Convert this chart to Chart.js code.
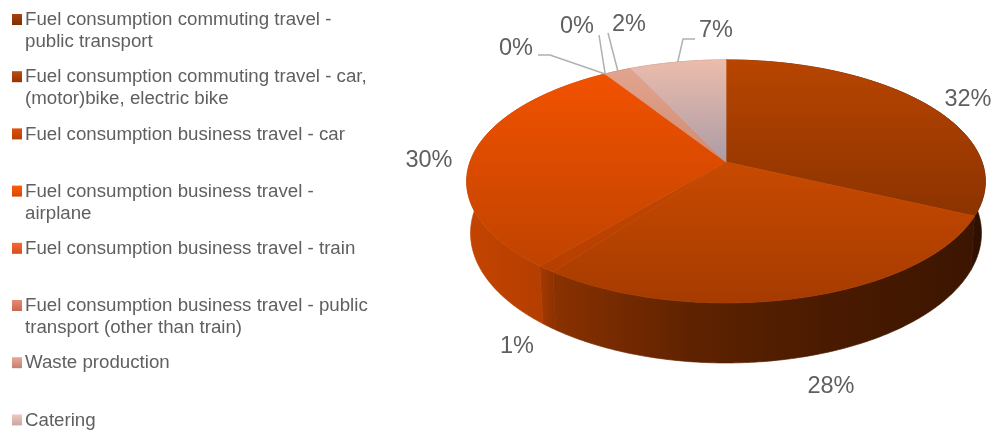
<!DOCTYPE html>
<html lang="en">
<head>
    <meta charset="UTF-8">
    <title>Carbon footprint by source</title>
    <script src="https://cdn.jsdelivr.net/npm/chart.js"></script>
    <style>
        html, body { margin: 0; padding: 0; background: #fff; }
        canvas { display: block; }
    </style>
</head>
<body>
    <canvas id="footprint" width="992" height="433"></canvas>

    <script>
        const categories = [
            ['Fuel consumption commuting travel -', 'public transport'],
            ['Fuel consumption commuting travel - car,', '(motor)bike, electric bike'],
            ['Fuel consumption business travel - car'],
            ['Fuel consumption business travel -', 'airplane'],
            ['Fuel consumption business travel - train'],
            ['Fuel consumption business travel - public', 'transport (other than train)'],
            ['Waste production'],
            ['Catering']
        ];
        const shares = [32, 28, 1, 30, 0, 0, 2, 7];

        // per slice: top face (far -> near), side wall (left -> right), legend swatch (top -> bottom)
        const faceColors = [
            ['#b84500', '#8c3300'], ['#c84a00', '#a63b00'], ['#c44600', '#b63f00'], ['#f25200', '#c04300'],
            ['#f06030', '#e05020'], ['#e08070', '#d07060'], ['#e2a48e', '#d08a72'], ['#ecbcac', '#aa9ca6']
        ];
        const wallColors = [
            ['#461900', '#2f1000'], ['#8a3100', '#5e2200', '#491a00', '#3c1500'], ['#a63900', '#8a3100'], ['#c44400', '#a63900'],
            ['#a03600', '#a03600'], ['#a03600', '#a03600'], ['#a06040', '#a06040'], ['#a07060', '#a07060']
        ];
        const swatchColors = [
            ['#a84210', '#7f2e00'], ['#c04a10', '#923500'], ['#e05010', '#b84000'], ['#ff5c08', '#d84800'],
            ['#f86830', '#d05020'], ['#e88870', '#c86850'], ['#eca898', '#c08070'], ['#f0c8c0', '#c8a8a0']
        ];

        // percent labels: centre position, and the elbow of the leader line if there is one
        const labelPos = [[968, 100], [831, 387], [517, 347], [429, 161], [516, 49], [577, 27], [629, 25], [716, 31]];
        const leaders = [null, null, null, null, [[538, 55], [550, 55]], [[599, 35]], [[608, 33]], [[695, 39], [683, 39]]];

        const legendTop = 20, legendStep = 57.2, legendLine = 22;

        // view of the tilted disc
        const view = { cx: 726, cy: 162, a: 256, b: 118.4, k: 0.16, depth: 50.4, shrink: 0.985 };

        function project(theta, low) {
            const X = Math.sin(theta), Y = Math.cos(theta), w = 1 + view.k * Y;
            const sx = low ? view.a * view.shrink : view.a;
            return [view.cx + sx * X / w, view.cy + (-view.b * Y + (low ? view.depth : 0)) / w];
        }

        function sliceAngles(arc) {
            // arc angles start at -PI/2 on the canvas, theta is clockwise from straight up
            return [arc.startAngle + Math.PI / 2, arc.endAngle + Math.PI / 2];
        }

        function rim(start, end, low) {
            const n = Math.max(2, Math.ceil((end - start) / 0.01));
            const pts = [];
            for (let i = 0; i <= n; i++) pts.push(project(start + (end - start) * i / n, low));
            return pts;
        }

        function fillPath(ctx, pts, fill) {
            ctx.beginPath();
            pts.forEach((p, i) => i ? ctx.lineTo(p[0], p[1]) : ctx.moveTo(p[0], p[1]));
            ctx.closePath();
            ctx.fillStyle = fill;
            ctx.fill();
            // closes the hairline seam between neighbouring slices
            ctx.strokeStyle = fill;
            ctx.lineWidth = 0.7;
            ctx.stroke();
        }

        function ramp(g, colors) {
            colors.forEach((c, i) => g.addColorStop(i / (colors.length - 1), c));
            return g;
        }

        const pie3d = {
            id: 'pie3d',
            beforeDatasetDraw() {
                return false; // arcs are painted below through the tilted view
            },
            afterDatasetsDraw(chart) {
                const ctx = chart.ctx;
                const arcs = chart.getDatasetMeta(0).data;

                arcs.forEach((arc, i) => {
                    const [s, e] = sliceAngles(arc);
                    if (e - s < 1e-6) return;
                    const top = rim(s, e, false), low = rim(s, e, true).reverse();
                    const xs = top.concat(low).map(p => p[0]);
                    const g = ctx.createLinearGradient(Math.min(...xs), 0, Math.max(...xs), 0);
                    fillPath(ctx, top.concat(low), ramp(g, wallColors[i]));
                });

                arcs.forEach((arc, i) => {
                    const [s, e] = sliceAngles(arc);
                    if (e - s < 1e-6) return;
                    const pts = [[view.cx, view.cy]].concat(rim(s, e, false));
                    const ys = pts.map(p => p[1]);
                    const g = ctx.createLinearGradient(0, Math.min(...ys), 0, Math.max(...ys));
                    fillPath(ctx, pts, ramp(g, faceColors[i]));
                });

                // leader lines and percent labels
                ctx.strokeStyle = '#b0b0b0';
                ctx.lineWidth = 1.5;
                arcs.forEach((arc, i) => {
                    if (!leaders[i]) return;
                    const [s, e] = sliceAngles(arc);
                    const tip = project((s + e) / 2, false);
                    ctx.beginPath();
                    leaders[i].forEach((p, j) => j ? ctx.lineTo(p[0], p[1]) : ctx.moveTo(p[0], p[1]));
                    ctx.lineTo(tip[0], tip[1]);
                    ctx.stroke();
                });
                ctx.font = '23.5px "Liberation Sans"';
                ctx.fillStyle = '#5f5f5f';
                ctx.textAlign = 'center';
                ctx.textBaseline = 'middle';
                shares.forEach((v, i) => ctx.fillText(v + '%', labelPos[i][0], labelPos[i][1]));

                // legend, one row per category
                ctx.font = '18.7px "Liberation Sans"';
                ctx.textAlign = 'left';
                categories.forEach((lines, i) => {
                    const y = legendTop + legendStep * i;
                    const g = ctx.createLinearGradient(0, y - 6, 0, y + 5);
                    ctx.fillStyle = ramp(g, swatchColors[i]);
                    ctx.fillRect(12, y - 6, 10, 11);
                    ctx.fillStyle = '#5f5f5f';
                    lines.forEach((t, j) => ctx.fillText(t, 25, y + j * legendLine));
                });
            }
        };

        new Chart(document.getElementById('footprint'), {
            type: 'pie',
            data: {
                labels: categories.map(c => c.join(' ')),
                datasets: [{ data: shares, backgroundColor: faceColors.map(c => c[0]) }]
            },
            options: {
                responsive: false,
                animation: false,
                plugins: { legend: { display: false }, tooltip: { enabled: false } }
            },
            plugins: [pie3d]
        });
    </script>
</body>
</html>
